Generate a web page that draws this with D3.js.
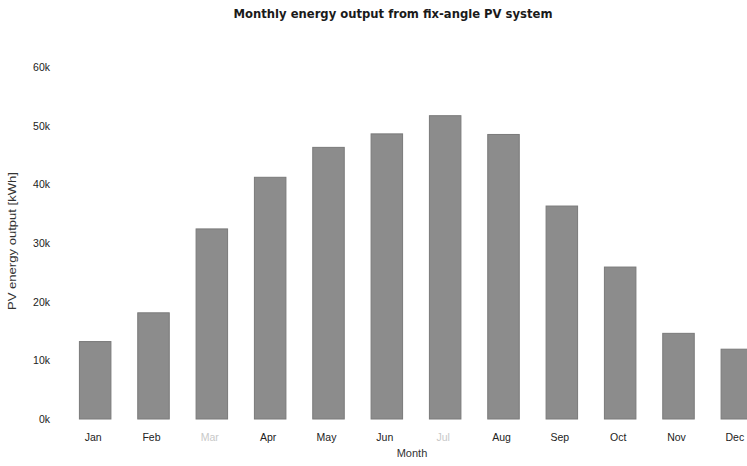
<!DOCTYPE html>
<html>
<head>
<meta charset="utf-8">
<script src="https://cdn.jsdelivr.net/npm/d3@7"></script>
<style>
  body { margin: 0; background: #fff; }
  svg { display: block; font-family: "Liberation Sans", Arial, sans-serif; }
</style>
</head>
<body>
<svg width="747" height="466"></svg>
<script>
// monthly PV output (kWh)
var months = ["Jan", "Feb", "Mar", "Apr", "May", "Jun", "Jul", "Aug", "Sep", "Oct", "Nov", "Dec"];
var energy = [13200, 18100, 32400, 41200, 46300, 48600, 51700, 48500, 36300, 25900, 14600, 11900];
var yTicks = [0, 10000, 20000, 30000, 40000, 50000, 60000];
// the scan washed out a couple of labels
var fadedLabels = ["Mar", "Jul"];

var svg = d3.select("svg"),
  width = +svg.attr("width"),
  height = +svg.attr("height");

var x = d3.scaleBand()
  .domain(months)
  .range([66, 766])
  .paddingInner(0.46)
  .paddingOuter(0.23);

var y = d3.scaleLinear()
  .domain([0, 60000])
  .range([419, 67]);

// title
svg.append("text")
  .attr("x", 393)
  .attr("y", 18)
  .attr("text-anchor", "middle")
  .attr("font-family", "DejaVu Sans, sans-serif")
  .attr("font-size", 11.6)
  .attr("font-weight", "bold")
  .attr("fill", "#1a1a1a")
  .text("Monthly energy output from fix-angle PV system");

// bars
svg.append("g")
  .selectAll("rect")
  .data(energy)
  .enter().append("rect")
  .attr("x", function(d, i) { return x(months[i]); })
  .attr("y", function(d) { return y(d); })
  .attr("width", x.bandwidth())
  .attr("height", function(d) { return y(0) - y(d); })
  .attr("fill", "#8c8c8c")
  .attr("stroke", "#7a7a7a")
  .attr("stroke-width", 1);

// y axis, labels only
var yAxis = d3.axisLeft(y)
  .tickValues(yTicks)
  .tickSize(0)
  .tickPadding(0)
  .tickFormat(function(d) { return (d / 1000) + "k"; });

var gy = svg.append("g")
  .attr("transform", "translate(50,0)")
  .call(yAxis);
gy.select(".domain").remove();
gy.selectAll("text")
  .attr("font-size", 10.5)
  .attr("fill", "#222")
  .attr("font-family", "Liberation Sans, Arial, sans-serif");

// x axis, labels only
var xAxis = d3.axisBottom(x).tickSize(0).tickPadding(0);
var gx = svg.append("g")
  .attr("transform", "translate(-2,434)")
  .call(xAxis);
gx.select(".domain").remove();
gx.selectAll("text")
  .attr("font-size", 10.5)
  .attr("font-family", "Liberation Sans, Arial, sans-serif")
  .attr("fill", function(d) { return fadedLabels.indexOf(d) >= 0 ? "#c8c8c8" : "#222"; });

// axis titles
svg.append("text")
  .attr("x", 412)
  .attr("y", 457)
  .attr("text-anchor", "middle")
  .attr("font-size", 11)
  .attr("fill", "#333")
  .text("Month");

svg.append("text")
  .attr("transform", "translate(16,241) rotate(-90)")
  .attr("text-anchor", "middle")
  .attr("font-size", 11)
  .attr("textLength", 138)
  .attr("lengthAdjust", "spacingAndGlyphs")
  .attr("fill", "#333")
  .text("PV energy output [kWh]");
</script>
</body>
</html>
